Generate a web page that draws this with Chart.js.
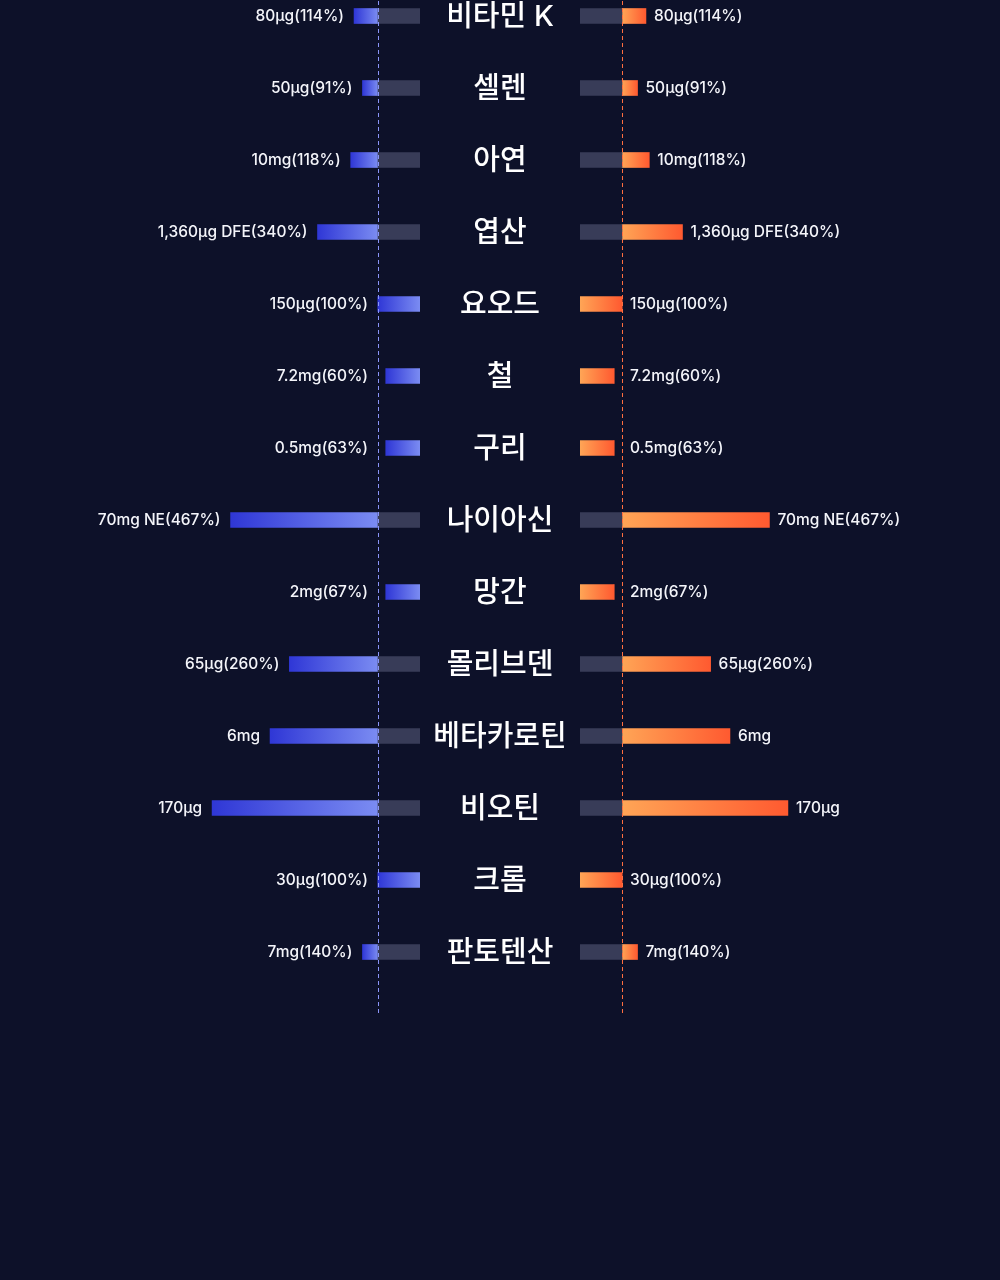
<!DOCTYPE html>
<html lang="ko">
<head>
<meta charset="utf-8">
<script src="https://cdn.jsdelivr.net/npm/chart.js@4.4.1/dist/chart.umd.min.js"></script>
<style>
  html, body { margin: 0; padding: 0; background: #0d1129; width: 1000px; height: 1280px; overflow: hidden; }
  #wrap { position: absolute; left: 0; top: -20px; width: 1000px; height: 1036px; }
  #left { position: absolute; left: 0; top: 0; }
  #right { position: absolute; left: 420px; top: 0; }
</style>
</head>
<body>
<div id="wrap">
  <canvas id="left" width="420" height="1036"></canvas>
  <canvas id="right" width="580" height="1036"></canvas>
</div>
<script>
// ---- data ----
const categories = ['비타민 K', '셀렌', '아연', '엽산', '요오드', '철', '구리', '나이아신', '망간', '몰리브덴', '베타카로틴', '비오틴', '크롬', '판토텐산'];
const valueLabels = ['80μg(114%)', '50μg(91%)', '10mg(118%)', '1,360μg DFE(340%)', '150μg(100%)', '7.2mg(60%)', '0.5mg(63%)', '70mg NE(467%)', '2mg(67%)', '65μg(260%)', '6mg', '170μg', '30μg(100%)', '7mg(140%)'];
// bar length in units where the dashed reference line = 100
const barLength = [157, 137, 165, 244, 100, 81, 81, 451, 81, 311, 357, 495, 100, 137];
const referenceLine = 100;
const axisMax = 1000;

const baseValues = barLength.map(v => Math.min(v, referenceLine));
const excessValues = barLength.map(v => Math.max(v - referenceLine, 0));

const TRACK = '#383c58';
const BLUE_IN = '#7b8cf2', BLUE_OUT = '#2f37d6';
const ORANGE_IN = '#ffa556', ORANGE_OUT = '#ff5a30';

function gradientFor(chart, from, to, cIn, cOut) {
  const xs = chart.scales.x;
  if (!xs) return cOut;
  const x0 = xs.getPixelForValue(from), x1 = xs.getPixelForValue(to);
  if (!isFinite(x0) || !isFinite(x1) || x0 === x1) return cOut;
  const g = chart.ctx.createLinearGradient(x0, 0, x1, 0);
  g.addColorStop(0, cIn);
  g.addColorStop(1, cOut);
  return g;
}

function makeDecor(side, lineColor) {
  return {
    id: 'decor_' + side,
    afterDatasetsDraw(chart) {
      const ctx = chart.ctx;
      const xs = chart.scales.x, ys = chart.scales.y;
      const area = chart.chartArea;
      // dashed reference line
      const lx = Math.round(xs.getPixelForValue(referenceLine)) + 0.5;
      ctx.save();
      ctx.strokeStyle = lineColor;
      ctx.lineWidth = 1;
      ctx.setLineDash([4, 3]);
      ctx.beginPath();
      ctx.moveTo(lx, 0);
      ctx.lineTo(lx, area.bottom + 28);
      ctx.stroke();
      ctx.setLineDash([]);
      // value labels
      ctx.fillStyle = '#f4f5fa';
      ctx.font = '500 15.5px Inter, "Noto Sans", sans-serif';
      ctx.textBaseline = 'middle';
      categories.forEach((c, i) => {
        const y = ys.getPixelForValue(i);
        const endX = xs.getPixelForValue(Math.max(barLength[i], referenceLine));
        if (side === 'left') {
          ctx.textAlign = 'right';
          ctx.fillText(valueLabels[i], endX - 10, y);
        } else {
          ctx.textAlign = 'left';
          ctx.fillText(valueLabels[i], endX + 8, y);
        }
      });
      // category names (centre column, right chart only)
      if (side === 'right') {
        ctx.fillStyle = '#ffffff';
        ctx.font = '500 29px Inter, "Noto Sans CJK KR", sans-serif';
        ctx.textAlign = 'center';
        categories.forEach((c, i) => {
          const y = ys.getPixelForValue(i);
          ctx.fillText(c, area.left - 80, y + 1);
        });
      }
      ctx.restore();
    }
  };
}

function makeChart(id, side, cIn, cOut, lineColor) {
  const el = document.getElementById(id);
  return new Chart(el, {
    type: 'bar',
    data: {
      labels: categories,
      datasets: [
        {
          label: 'base',
          data: baseValues,
          barThickness: 15,
          borderWidth: 0,
          backgroundColor: (ctx) => {
            const i = ctx.dataIndex;
            if (barLength[i] > referenceLine) return TRACK;
            return gradientFor(ctx.chart, 0, baseValues[i], cIn, cOut);
          }
        },
        {
          label: 'excess',
          data: excessValues,
          barThickness: 15,
          borderWidth: 0,
          backgroundColor: (ctx) => {
            const i = ctx.dataIndex;
            return gradientFor(ctx.chart, referenceLine, barLength[i], cIn, cOut);
          }
        }
      ]
    },
    options: {
      indexAxis: 'y',
      responsive: false,
      animation: false,
      events: [],
      layout: { padding: { left: side === 'right' ? 160 : 0, right: 0, top: 0, bottom: 28 } },
      plugins: { legend: { display: false }, tooltip: { enabled: false } },
      scales: {
        x: { type: 'linear', stacked: true, min: 0, max: axisMax, reverse: side === 'left', display: false },
        y: { type: 'category', stacked: true, offset: true, display: false }
      }
    },
    plugins: [makeDecor(side, lineColor)]
  });
}

makeChart('left', 'left', BLUE_IN, BLUE_OUT, '#8a94f8');
makeChart('right', 'right', ORANGE_IN, ORANGE_OUT, '#ff6e40');
</script>
</body>
</html>
